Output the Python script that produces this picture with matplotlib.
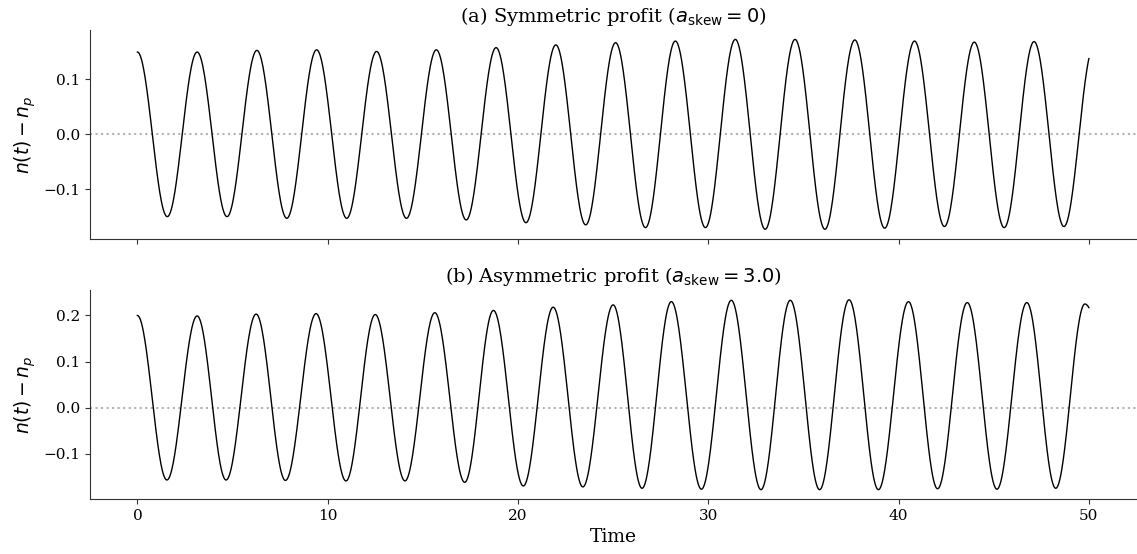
"""
Damped/driven oscillation of n(t) - n_p for symmetric and asymmetric profit.
Values are the turning points read off the reference figure.
"""

import numpy as np
import matplotlib
matplotlib.use("Agg")
import matplotlib.pyplot as plt


# turning points (time, value) of the symmetric case, last entry is the end of the run
sym_times = [0.0, 1.57, 3.14, 4.71, 6.28, 7.85, 9.42, 11.00, 12.57, 14.14,
             15.71, 17.28, 18.85, 20.42, 21.99, 23.56, 25.13, 26.70, 28.27, 29.85,
             31.42, 32.99, 34.56, 36.13, 37.70, 39.27, 40.84, 42.41, 43.98, 45.55,
             47.12, 48.69, 50.0]
sym_values = [0.150, -0.150, 0.150, -0.150, 0.153, -0.153, 0.154, -0.153, 0.151, -0.153,
              0.154, -0.156, 0.158, -0.161, 0.163, -0.165, 0.167, -0.170, 0.170, -0.170,
              0.173, -0.173, 0.173, -0.173, 0.172, -0.171, 0.170, -0.168, 0.168, -0.170,
              0.169, -0.168, 0.138]

# turning points of the asymmetric case (a_skew = 3.0)
asym_times = [0.0, 1.55, 3.14, 4.66, 6.24, 7.78, 9.39, 10.96, 12.50, 14.06,
              15.63, 17.20, 18.71, 20.28, 21.85, 23.41, 25.00, 26.52, 28.06, 29.64,
              31.21, 32.77, 34.31, 35.85, 37.40, 38.94, 40.52, 42.05, 43.61, 45.17,
              46.74, 48.26, 49.79, 50.0]
asym_values = [0.200, -0.157, 0.199, -0.157, 0.203, -0.158, 0.204, -0.159, 0.202, -0.159,
               0.206, -0.162, 0.211, -0.170, 0.218, -0.172, 0.223, -0.175, 0.230, -0.177,
               0.233, -0.178, 0.233, -0.178, 0.234, -0.178, 0.230, -0.176, 0.228, -0.177,
               0.228, -0.175, 0.225, 0.217]

panel_titles = [
    r"(a) Symmetric profit ($a_{\mathrm{skew}} = 0$)",
    r"(b) Asymmetric profit ($a_{\mathrm{skew}} = 3.0$)",
]


def smooth_path(times, values, n=60):
    """
    Joins consecutive turning points with cosine-shaped arcs.
    The final segment is cut short at the end of the run.
    """
    ts, ys = [times[0]], [values[0]]
    half = times[1] - times[0]
    for i in range(len(times) - 1):
        t0, t1 = times[i], times[i + 1]
        y0, y1 = values[i], values[i + 1]
        last = i == len(times) - 2
        if not last:
            half = t1 - t0
        w = np.pi / half
        s = np.linspace(t0, t1, n)[1:]
        shape = (1 - np.cos(w * (s - t0))) / (1 - np.cos(w * (t1 - t0)))
        ts.extend(s)
        ys.extend(y0 + (y1 - y0) * shape)
    return np.array(ts), np.array(ys)


def main():
    plt.rcParams["font.family"] = ["DejaVu Serif"]
    plt.rcParams["mathtext.fontset"] = "dejavusans"

    fig, axes = plt.subplots(2, 1, figsize=(11.37, 5.54), dpi=100, sharex=True)
    fig.subplots_adjust(left=0.079, right=0.9995, top=0.946, bottom=0.099, hspace=0.247)

    for ax, (t, v), title in zip(axes,
                                 [(sym_times, sym_values), (asym_times, asym_values)],
                                 panel_titles):
        x, y = smooth_path(t, v)
        ax.plot(x, y, color="black", linewidth=1.0)
        ax.axhline(0, color="0.7", linestyle=":", linewidth=1.5, zorder=0)
        ax.set_title(title, fontsize=14)
        ax.set_ylabel(r"$n(t) - n_p$", fontsize=13.5)
        ax.spines["top"].set_visible(False)
        ax.spines["right"].set_visible(False)
        for side in ("left", "bottom"):
            ax.spines[side].set_color("0.2")
        ax.tick_params(labelsize=11, color="0.2")

    axes[1].set_xlabel("Time", fontsize=13.5)
    axes[0].set_yticks([-0.1, 0.0, 0.1])
    axes[1].set_yticks([-0.1, 0.0, 0.1, 0.2])

    fig.savefig("out.png", dpi=100)
    plt.close(fig)


if __name__ == "__main__":
    main()
